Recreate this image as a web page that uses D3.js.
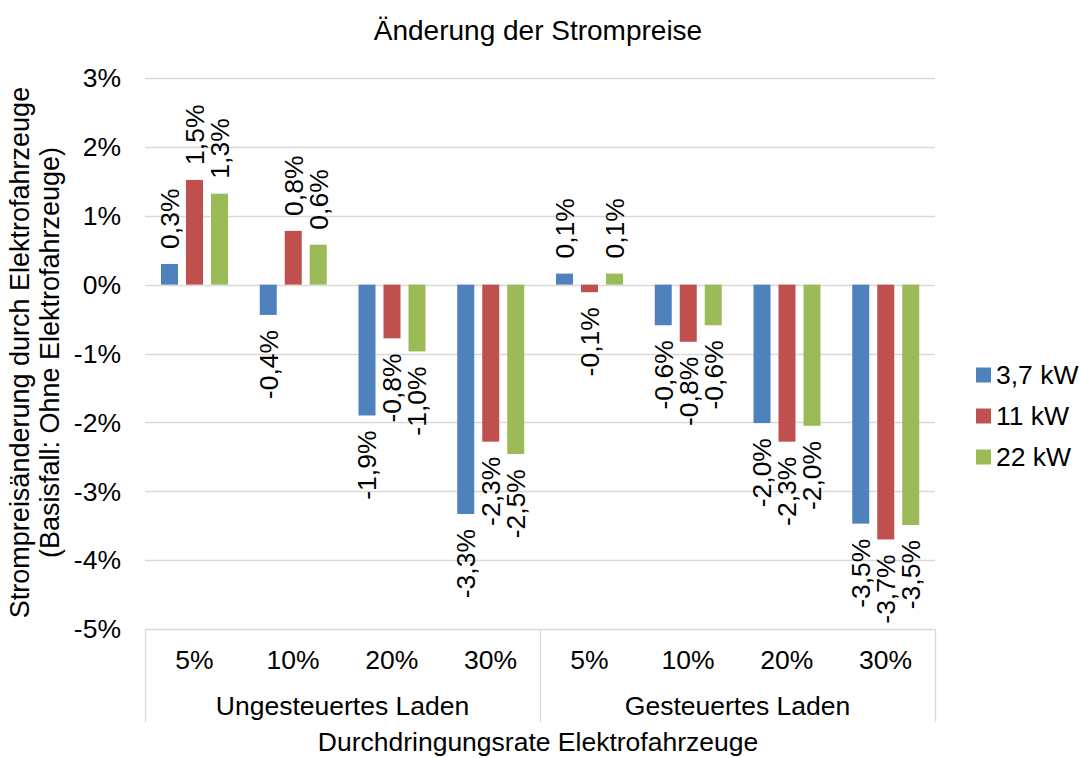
<!DOCTYPE html>
<html>
<head>
<meta charset="utf-8">
<script src="https://cdn.jsdelivr.net/npm/d3@7/dist/d3.min.js"></script>
<style>
  body { margin: 0; background: #fff; }
  svg { font-family: "Liberation Sans", Arial, sans-serif; }
</style>
</head>
<body>
<div id="chart"></div>
<script>
// --- data -------------------------------------------------------------------
const groups = ['Ungesteuertes Laden', 'Gesteuertes Laden'];
const rates = ['5%', '10%', '20%', '30%'];
const series = ['3,7 kW', '11 kW', '22 kW'];
const colors = ['#4f81bd', '#c0504d', '#9bbb59'];

// values in %, one row per category (group x rate), columns = series
const values = [
  [0.30, 1.52, 1.32],
  [-0.44, 0.78, 0.58],
  [-1.90, -0.78, -0.97],
  [-3.33, -2.28, -2.46],
  [0.16, -0.11, 0.16],
  [-0.59, -0.83, -0.59],
  [-2.01, -2.28, -2.05],
  [-3.47, -3.70, -3.49],
];
const labels = [
  ['0,3%', '1,5%', '1,3%'],
  ['-0,4%', '0,8%', '0,6%'],
  ['-1,9%', '-0,8%', '-1,0%'],
  ['-3,3%', '-2,3%', '-2,5%'],
  ['0,1%', '-0,1%', '0,1%'],
  ['-0,6%', '-0,8%', '-0,6%'],
  ['-2,0%', '-2,3%', '-2,0%'],
  ['-3,5%', '-3,7%', '-3,5%'],
];
const yTicks = [3, 2, 1, 0, -1, -2, -3, -4, -5];

// --- layout -----------------------------------------------------------------
const W = 1081, H = 758;
const L = 145, R = 935, T = 78, B = 629;
const FONT = 26.5;   // ticks, labels, legend
const FONT_T = 28;   // chart title
const FONT_Y = 27;   // y axis title

const svg = d3.select('#chart').append('svg')
  .attr('width', W).attr('height', H);

const cats = [];
groups.forEach(g => rates.forEach(r => cats.push(g + '|' + r)));

const x0 = d3.scaleBand().domain(cats).range([L, R]).padding(0);
const x1 = d3.scaleBand().domain(series).range([16, 83]).paddingInner(0.32).paddingOuter(0);
const y = d3.scaleLinear().domain([-5, 3]).range([B, T]);

// gridlines
svg.append('g')
  .selectAll('line')
  .data(yTicks.filter(t => t !== -5))
  .join('line')
    .attr('x1', L).attr('x2', R)
    .attr('y1', d => Math.round(y(d)) + 0.5).attr('y2', d => Math.round(y(d)) + 0.5)
    .attr('stroke', '#d9d9d9').attr('stroke-width', 1.3);

// y tick labels
svg.append('g')
  .selectAll('text')
  .data(yTicks)
  .join('text')
    .attr('x', 121)
    .attr('y', d => y(d))
    .attr('dy', '0.35em')
    .attr('text-anchor', 'end')
    .attr('font-size', FONT)
    .attr('fill', '#000')
    .text(d => d + '%');

// x axis frame: baseline + separators
const axisG = svg.append('g').attr('stroke', '#d9d9d9').attr('stroke-width', 1.3);
axisG.append('line')
  .attr('x1', L).attr('x2', R)
  .attr('y1', B + 0.5).attr('y2', B + 0.5);
[L, x0(cats[4]), R].forEach(xv => {
  axisG.append('line')
    .attr('x1', Math.round(xv) + 0.5).attr('x2', Math.round(xv) + 0.5)
    .attr('y1', B).attr('y2', 722);
});

// bars
const cells = [];
values.forEach((row, i) => row.forEach((v, j) => {
  cells.push({ cat: cats[i], s: series[j], j, v, label: labels[i][j] });
}));

svg.append('g')
  .selectAll('rect')
  .data(cells)
  .join('rect')
    .attr('x', d => x0(d.cat) + x1(d.s))
    .attr('y', d => y(Math.max(0, d.v)))
    .attr('width', x1.bandwidth())
    .attr('height', d => Math.abs(y(d.v) - y(0)))
    .attr('fill', d => colors[d.j]);

// data labels (rotated)
svg.append('g')
  .selectAll('text')
  .data(cells)
  .join('text')
    .attr('font-size', FONT)
    .attr('fill', '#000')
    .attr('text-anchor', d => d.v >= 0 ? 'start' : 'end')
    .attr('dy', '0.35em')
    .attr('transform', d => {
      const cx = x0(d.cat) + x1(d.s) + x1.bandwidth() / 2;
      const cy = d.v >= 0 ? y(d.v) - 15 : y(d.v) + 15;
      return `translate(${cx},${cy}) rotate(-90)`;
    })
    .text(d => d.label);

// category labels
svg.append('g')
  .selectAll('text')
  .data(cats)
  .join('text')
    .attr('x', d => x0(d) + x0.bandwidth() / 2)
    .attr('y', 660)
    .attr('dy', '0.35em')
    .attr('text-anchor', 'middle')
    .attr('font-size', FONT)
    .text(d => d.split('|')[1]);

// group labels
svg.append('g')
  .selectAll('text')
  .data(groups)
  .join('text')
    .attr('x', (d, i) => (x0(cats[i * 4]) + x0(cats[i * 4 + 3]) + x0.bandwidth()) / 2)
    .attr('y', 706)
    .attr('dy', '0.35em')
    .attr('text-anchor', 'middle')
    .attr('font-size', FONT)
    .text(d => d);

// titles
svg.append('text')
  .attr('x', 538).attr('y', 30).attr('dy', '0.35em')
  .attr('text-anchor', 'middle').attr('font-size', FONT_T)
  .text('Änderung der Strompreise');

svg.append('text')
  .attr('x', 538).attr('y', 742).attr('dy', '0.35em')
  .attr('text-anchor', 'middle').attr('font-size', FONT)
  .text('Durchdringungsrate Elektrofahrzeuge');

const yt = svg.append('g')
  .attr('transform', `translate(0, ${(T + B) / 2 - 1}) rotate(-90)`)
  .attr('text-anchor', 'middle').attr('font-size', FONT_Y);
yt.append('text').attr('x', 0).attr('y', 20).attr('dy', '0.35em')
  .text('Strompreisänderung durch Elektrofahrzeuge');
yt.append('text').attr('x', 0).attr('y', 50).attr('dy', '0.35em')
  .text('(Basisfall: Ohne Elektrofahrzeuge)');

// legend
const leg = svg.append('g')
  .selectAll('g')
  .data(series)
  .join('g')
    .attr('transform', (d, i) => `translate(976, ${375 + i * 41})`);
leg.append('rect')
  .attr('x', 0).attr('y', -7.5).attr('width', 15).attr('height', 15)
  .attr('fill', (d, i) => colors[i]);
leg.append('text')
  .attr('x', 20).attr('y', 0).attr('dy', '0.35em')
  .attr('font-size', FONT)
  .text(d => d);
</script>
</body>
</html>
